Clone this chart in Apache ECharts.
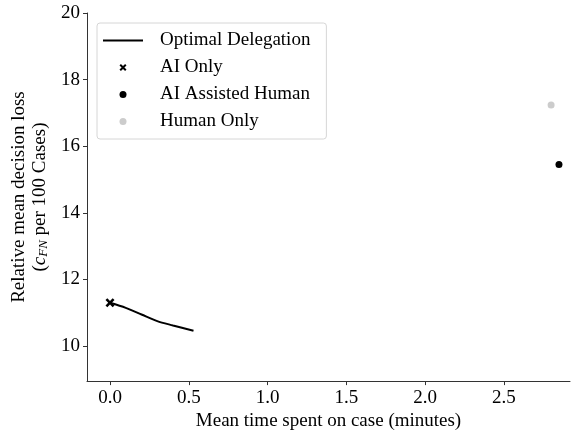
<!DOCTYPE html>
<html><head><meta charset="utf-8">
<script src="https://cdn.jsdelivr.net/npm/echarts@6/dist/echarts.min.js"></script>
<style>html,body{margin:0;padding:0;background:#fff}#c{width:572px;height:436px}</style>
</head><body><div id="c"></div>
<script>
const optimalX = [0.0, 0.1, 0.2, 0.3, 0.4, 0.53];
const optimalY = [11.3, 11.15, 10.95, 10.75, 10.62, 10.46];
const aiOnly = [[0.0, 11.3]];
const aiAssisted = [[2.85, 15.45]];
const humanOnly = [[2.80, 17.24]];
const xTicks = [0.0, 0.5, 1.0, 1.5, 2.0, 2.5];
const yTicks = [10, 12, 14, 16, 18, 20];

const FONT = 'Liberation Serif';
const FS = 19;
const xPath = 'path://M2,0 L5,3 L8,0 L10,2 L7,5 L10,8 L8,10 L5,7 L2,10 L0,8 L3,5 L0,2 Z';
const linePath = 'path://M0,0 L40,0 L40,2 L0,2 Z';
const chart = echarts.init(document.getElementById('c'), null, {renderer: 'canvas'});
chart.setOption({
  animation: false,
  backgroundColor: '#fff',
  textStyle: {fontFamily: FONT},
  grid: {left: 87, top: 13, right: 2, bottom: 53},
  legend: {
    left: 97, top: 23, orient: 'vertical',
    itemWidth: 40, itemHeight: 7, itemGap: 8,
    padding: [8, 16, 8, 6],
    borderColor: '#d6d6d6', borderWidth: 1, borderRadius: 3,
    textStyle: {fontFamily: FONT, fontSize: FS, color: '#000', padding: [0, 0, 0, 12], lineHeight: 18},
    data: [
      {name: 'Optimal Delegation', icon: linePath, itemStyle: {color: '#000'}},
      {name: 'AI Only', icon: xPath},
      {name: 'AI Assisted Human', icon: 'circle'},
      {name: 'Human Only', icon: 'circle'}
    ]
  },
  xAxis: {
    type: 'value', min: -0.146, max: 2.92, interval: 0.5,
    name: 'Mean time spent on case (minutes)', nameLocation: 'middle', nameGap: 30,
    nameTextStyle: {fontFamily: FONT, fontSize: FS, color: '#000'},
    axisLine: {show: true, onZero: false, lineStyle: {color: '#333', width: 1}},
    axisTick: {show: true, length: 4, lineStyle: {color: '#333'}, customValues: xTicks},
    axisLabel: {fontFamily: FONT, fontSize: FS, color: '#000', margin: 7,
      customValues: xTicks, formatter: v => v.toFixed(1)},
    splitLine: {show: false}
  },
  yAxis: {
    type: 'value', min: 8.95, max: 20,
    name: 'Relative mean decision loss\n({i|c}{s|FN} per 100 Cases)',
    nameLocation: 'middle', nameGap: 34, nameRotate: 90,
    nameTextStyle: {fontFamily: FONT, fontSize: FS, color: '#000', lineHeight: 21, align: 'center',
      rich: {i: {fontFamily: FONT, fontSize: FS, fontStyle: 'italic', lineHeight: 21},
             s: {fontFamily: FONT, fontSize: 13, fontStyle: 'italic', lineHeight: 21, padding: [8,0,0,0]}}},
    axisLine: {show: true, onZero: false, lineStyle: {color: '#333', width: 1}},
    axisTick: {show: true, length: 4, lineStyle: {color: '#333'}, customValues: yTicks},
    axisLabel: {fontFamily: FONT, fontSize: FS, color: '#000', margin: 7, customValues: yTicks},
    splitLine: {show: false}
  },
  series: [
    {name: 'Optimal Delegation', type: 'line', symbol: 'none', smooth: 0.3,
      data: optimalX.map((x, i) => [x, optimalY[i]]),
      lineStyle: {color: '#000', width: 2}, itemStyle: {color: '#000'}, z: 2},
    {name: 'AI Only', type: 'scatter', symbol: xPath, symbolSize: 9, data: aiOnly,
      itemStyle: {color: '#000', opacity: 1}, z: 3},
    {name: 'AI Assisted Human', type: 'scatter', symbol: 'circle', symbolSize: 7, data: aiAssisted,
      itemStyle: {color: '#000', opacity: 1}},
    {name: 'Human Only', type: 'scatter', symbol: 'circle', symbolSize: 7, data: humanOnly,
      itemStyle: {color: '#cccccc', opacity: 1}}
  ]
});
</script></body></html>
